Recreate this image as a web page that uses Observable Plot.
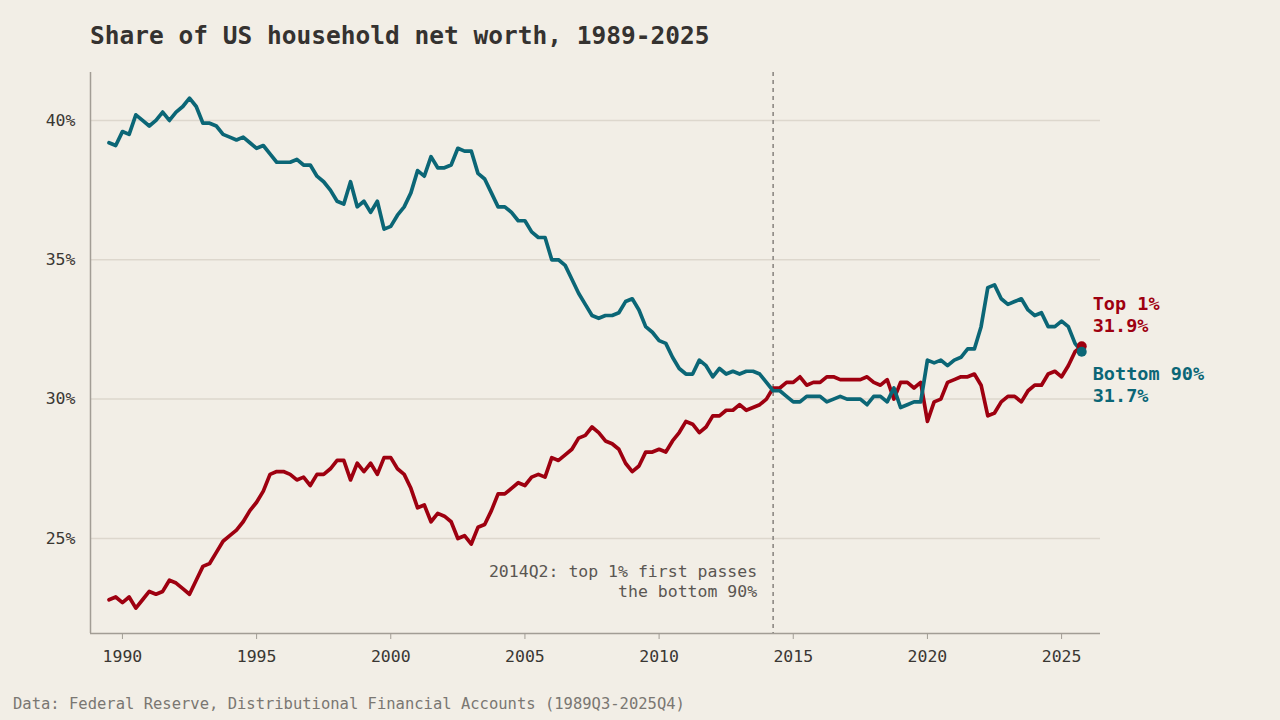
<!DOCTYPE html>
<html>
<head>
<meta charset="utf-8">
<script src="https://cdn.jsdelivr.net/npm/d3@7"></script>
<script src="https://cdn.jsdelivr.net/npm/@observablehq/plot@0.6"></script>
<style>
  html, body { margin: 0; padding: 0; background: #f2eee6; }
  body { width: 1280px; height: 720px; position: relative; overflow: hidden; font-family: "DejaVu Sans Mono", monospace; }
  #title { position: absolute; left: 90px; top: 24px; font-size: 24.5px; line-height: 1; font-weight: bold; color: #353230; white-space: nowrap; }
  #chart { position: absolute; left: 0; top: 60px; }
  #caption { position: absolute; left: 13px; top: 697px; font-size: 15.5px; line-height: 1; color: #7a7772; white-space: nowrap; }
</style>
</head>
<body>
<div id="title">Share of US household net worth, 1989-2025</div>
<div id="chart"></div>
<div id="caption">Data: Federal Reserve, Distributional Financial Accounts (1989Q3-2025Q4)</div>
<script>
// First quarter of the series
const startYear = 1989;
const startQuarter = 3;

// Bottom 90% share of household net worth (%), quarterly 1989Q3-2025Q4
const bottom90 = [
  39.2, 39.1,               // 1989 Q3-Q4
  39.6, 39.5, 40.2, 40.0,   // 1990
  39.8, 40.0, 40.3, 40.0,   // 1991
  40.3, 40.5, 40.8, 40.5,   // 1992
  39.9, 39.9, 39.8, 39.5,   // 1993
  39.4, 39.3, 39.4, 39.2,   // 1994
  39.0, 39.1, 38.8, 38.5,   // 1995
  38.5, 38.5, 38.6, 38.4,   // 1996
  38.4, 38.0, 37.8, 37.5,   // 1997
  37.1, 37.0, 37.8, 36.9,   // 1998
  37.1, 36.7, 37.1, 36.1,   // 1999
  36.2, 36.6, 36.9, 37.4,   // 2000
  38.2, 38.0, 38.7, 38.3,   // 2001
  38.3, 38.4, 39.0, 38.9,   // 2002
  38.9, 38.1, 37.9, 37.4,   // 2003
  36.9, 36.9, 36.7, 36.4,   // 2004
  36.4, 36.0, 35.8, 35.8,   // 2005
  35.0, 35.0, 34.8, 34.3,   // 2006
  33.8, 33.4, 33.0, 32.9,   // 2007
  33.0, 33.0, 33.1, 33.5,   // 2008
  33.6, 33.2, 32.6, 32.4,   // 2009
  32.1, 32.0, 31.5, 31.1,   // 2010
  30.9, 30.9, 31.4, 31.2,   // 2011
  30.8, 31.1, 30.9, 31.0,   // 2012
  30.9, 31.0, 31.0, 30.9,   // 2013
  30.6, 30.3, 30.3, 30.1,   // 2014
  29.9, 29.9, 30.1, 30.1,   // 2015
  30.1, 29.9, 30.0, 30.1,   // 2016
  30.0, 30.0, 30.0, 29.8,   // 2017
  30.1, 30.1, 29.9, 30.4,   // 2018
  29.7, 29.8, 29.9, 29.9,   // 2019
  31.4, 31.3, 31.4, 31.2,   // 2020
  31.4, 31.5, 31.8, 31.8,   // 2021
  32.6, 34.0, 34.1, 33.6,   // 2022
  33.4, 33.5, 33.6, 33.2,   // 2023
  33.0, 33.1, 32.6, 32.6,   // 2024
  32.8, 32.6, 32.0, 31.7    // 2025
];

// Top 1% share of household net worth (%), quarterly 1989Q3-2025Q4
const top1 = [
  22.8, 22.9,               // 1989 Q3-Q4
  22.7, 22.9, 22.5, 22.8,   // 1990
  23.1, 23.0, 23.1, 23.5,   // 1991
  23.4, 23.2, 23.0, 23.5,   // 1992
  24.0, 24.1, 24.5, 24.9,   // 1993
  25.1, 25.3, 25.6, 26.0,   // 1994
  26.3, 26.7, 27.3, 27.4,   // 1995
  27.4, 27.3, 27.1, 27.2,   // 1996
  26.9, 27.3, 27.3, 27.5,   // 1997
  27.8, 27.8, 27.1, 27.7,   // 1998
  27.4, 27.7, 27.3, 27.9,   // 1999
  27.9, 27.5, 27.3, 26.8,   // 2000
  26.1, 26.2, 25.6, 25.9,   // 2001
  25.8, 25.6, 25.0, 25.1,   // 2002
  24.8, 25.4, 25.5, 26.0,   // 2003
  26.6, 26.6, 26.8, 27.0,   // 2004
  26.9, 27.2, 27.3, 27.2,   // 2005
  27.9, 27.8, 28.0, 28.2,   // 2006
  28.6, 28.7, 29.0, 28.8,   // 2007
  28.5, 28.4, 28.2, 27.7,   // 2008
  27.4, 27.6, 28.1, 28.1,   // 2009
  28.2, 28.1, 28.5, 28.8,   // 2010
  29.2, 29.1, 28.8, 29.0,   // 2011
  29.4, 29.4, 29.6, 29.6,   // 2012
  29.8, 29.6, 29.7, 29.8,   // 2013
  30.0, 30.4, 30.4, 30.6,   // 2014
  30.6, 30.8, 30.5, 30.6,   // 2015
  30.6, 30.8, 30.8, 30.7,   // 2016
  30.7, 30.7, 30.7, 30.8,   // 2017
  30.6, 30.5, 30.7, 30.0,   // 2018
  30.6, 30.6, 30.4, 30.6,   // 2019
  29.2, 29.9, 30.0, 30.6,   // 2020
  30.7, 30.8, 30.8, 30.9,   // 2021
  30.5, 29.4, 29.5, 29.9,   // 2022
  30.1, 30.1, 29.9, 30.3,   // 2023
  30.5, 30.5, 30.9, 31.0,   // 2024
  30.8, 31.2, 31.7, 31.9    // 2025
];

const seriesNames = ["Top 1%", "Bottom 90%"];
const seriesColors = ["#9e0010", "#0b6676"];

const xTicks = [1990, 1995, 2000, 2005, 2010, 2015, 2020, 2025];
const yTicks = [25, 30, 35, 40];

// Crossover marker
const crossYear = 2014, crossQuarter = 2;
const annotationText = "2014Q2: top 1% first passes\nthe bottom 90%";
const annotationLevel = 23.5;

// Scale domains
const xDomain = [1988.81, 2026.45];
const yDomain = [21.59, 41.72];

// Build tidy table
const qTime = (y, q) => y + (q - 1) / 4;
const rows = [];
const addSeries = (name, values) => values.forEach((v, i) => {
  const idx = (startQuarter - 1) + i;
  const year = startYear + Math.floor(idx / 4);
  const q = (idx % 4) + 1;
  rows.push({series: name, t: qTime(year, q), value: v, label: `${year}Q${q}`});
});
addSeries(seriesNames[0], top1);
addSeries(seriesNames[1], bottom90);

const last = seriesNames.map(name => {
  const r = rows.filter(d => d.series === name);
  return r[r.length - 1];
});
const crossT = qTime(crossYear, crossQuarter);

const font = "DejaVu Sans Mono, monospace";
const endLabel = (name, dy) => Plot.text(last.filter(d => d.series === name), {
  x: "t", y: "value",
  text: d => `${d.series}\n${d.value.toFixed(1)}%`,
  fill: "series",
  textAnchor: "start", dx: 11, dy,
  lineAnchor: "middle", lineHeight: 1.2,
  fontWeight: "bold", fontSize: 18.5
});

const chart = Plot.plot({
  width: 1280,
  height: 620,
  marginLeft: 90,
  marginRight: 180,
  marginTop: 12,
  marginBottom: 47,
  style: {background: "transparent", fontFamily: font, fontSize: "16.5px", color: "#3a3733", overflow: "visible"},
  x: {domain: xDomain, ticks: xTicks, tickFormat: "d", tickSize: 6, tickPadding: 11, label: null},
  y: {domain: yDomain, ticks: yTicks, tickFormat: d => d + "%", tickSize: 0, tickPadding: 15, label: null},
  color: {domain: seriesNames, range: seriesColors},
  marks: [
    Plot.gridY(yTicks, {stroke: "#ddd7cd", strokeOpacity: 1, strokeWidth: 1.5}),
    Plot.ruleX([xDomain[0]], {stroke: "#a29d95", strokeWidth: 1.5}),
    Plot.ruleY([yDomain[0]], {stroke: "#a29d95", strokeWidth: 1.5}),
    Plot.axisX({ticks: xTicks, tickFormat: "d", tickSize: 6, tickPadding: 11, stroke: "#a29d95", fill: "#3a3733", fontSize: 16.5, label: null}),
    Plot.axisY({ticks: yTicks, tickFormat: d => d + "%", tickSize: 0, tickPadding: 15, fill: "#3a3733", fontSize: 16.5, label: null}),
    Plot.ruleX([crossT], {stroke: "#8c8883", strokeWidth: 1.6, strokeDasharray: "4,4"}),
    Plot.text([annotationText], {x: crossT, y: annotationLevel, text: d => d, textAnchor: "end", dx: -16, lineAnchor: "middle", lineHeight: 1.26, fill: "#5a5652", fontSize: 16.5}),
    Plot.line(rows, {x: "t", y: "value", stroke: "series", z: "series", strokeWidth: 3.7, strokeLinejoin: "round", strokeLinecap: "round"}),
    Plot.dot(last, {x: "t", y: "value", fill: "series", r: 5}),
    endLabel(seriesNames[0], -32),
    endLabel(seriesNames[1], 32)
  ]
});

document.getElementById("chart").appendChild(chart);
</script>
</body>
</html>
